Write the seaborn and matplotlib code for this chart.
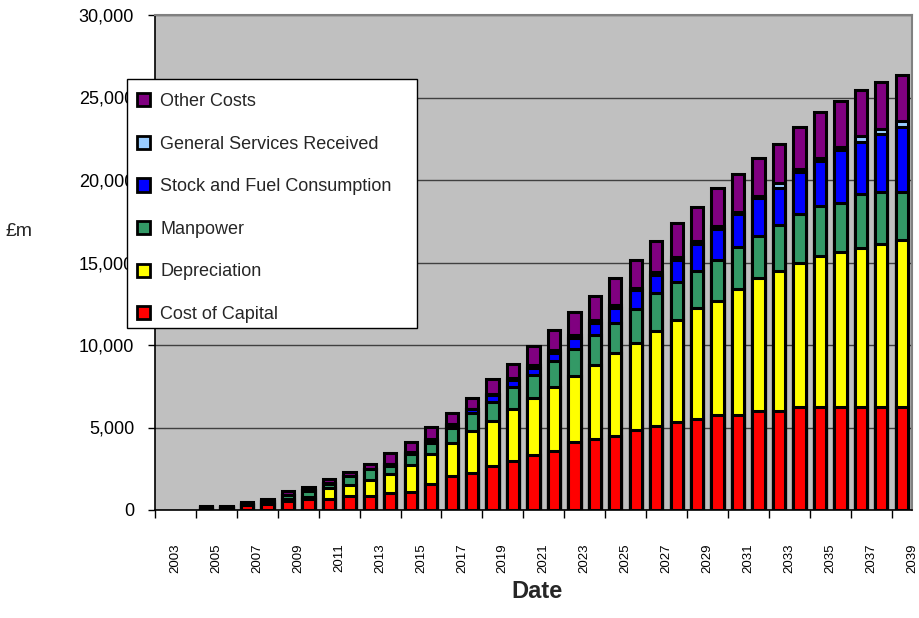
import numpy as np
import pandas as pd
import matplotlib
matplotlib.use("Agg")
import matplotlib.pyplot as plt
import seaborn as sns
from matplotlib.patches import Patch, Rectangle
from matplotlib.ticker import FixedLocator, FuncFormatter, NullFormatter

# ---------------- data ----------------
years = [2003, 2004, 2005, 2006, 2007, 2008, 2009, 2010, 2011, 2012, 2013,
         2014, 2015, 2016, 2017, 2018, 2019, 2020, 2021, 2022, 2023, 2024,
         2025, 2026, 2027, 2028, 2029, 2030, 2031, 2032, 2033, 2034, 2035,
         2036, 2037, 2038, 2039]

cost_of_capital = [0, 0, 60, 120, 300, 380, 560, 640, 640, 840, 840, 1040, 1100,
                   1560, 2040, 2240, 2680, 2940, 3360, 3600, 4100, 4280, 4480,
                   4850, 5070, 5330, 5530, 5780, 5780, 6000, 6000, 6240, 6240,
                   6240, 6240, 6240, 6240]
depreciation = [0, 0, 0, 0, 0, 0, 80, 150, 680, 700, 960, 1160, 1620, 1840,
                2020, 2520, 2720, 3180, 3420, 3880, 4040, 4520, 5020, 5290,
                5760, 6180, 6690, 6870, 7600, 8080, 8480, 8750, 9150, 9390,
                9620, 9900, 10100]
manpower = [0, 0, 100, 40, 80, 150, 250, 350, 250, 500, 660, 480, 680, 640,
            900, 1100, 1160, 1360, 1380, 1560, 1600, 1800, 1860, 2020, 2300,
            2300, 2260, 2530, 2530, 2500, 2790, 2970, 3030, 2990, 3270, 3150,
            2950]
stock_fuel = [0, 0, 0, 0, 0, 0, 30, 50, 50, 50, 50, 100, 80, 200, 200, 250,
              440, 400, 440, 460, 660, 740, 900, 1150, 1110, 1370, 1620, 1860,
              2000, 2300, 2260, 2530, 2730, 3190, 3190, 3470, 3930]
general_services = [0, 0, 0, 0, 0, 0, 0, 0, 0, 0, 0, 0, 20, 50, 40, 40, 40,
                    120, 200, 180, 200, 160, 180, 140, 180, 160, 180, 160, 140,
                    140, 300, 160, 200, 180, 330, 360, 360]
other_costs = [0, 0, 60, 60, 100, 150, 230, 210, 240, 210, 250, 680, 600, 730,
               700, 650, 880, 840, 1140, 1200, 1400, 1440, 1620, 1720, 1880,
               2060, 2080, 2310, 2320, 2320, 2360, 2560, 2770, 2780, 2810,
               2810, 2780]

series_names = ["Cost of Capital", "Depreciation", "Manpower",
                "Stock and Fuel Consumption", "General Services Received",
                "Other Costs"]
series_colors = ["#FF0000", "#FFFF00", "#339966", "#0000FF", "#99CCFF", "#800080"]

# ---------------- style ----------------
sns.set_theme(style="white")
plt.rcParams["font.family"] = ["Liberation Sans", "DejaVu Sans"]

fig = plt.figure(figsize=(9.2, 6.18), dpi=100)
ax = fig.add_axes([155 / 920, 1 - 510 / 618, 757 / 920, 495 / 618])
ax.set_facecolor("#C0C0C0")

values = [cost_of_capital, depreciation, manpower, stock_fuel,
          general_services, other_costs]
cum = np.cumsum(np.array(values, dtype=float), axis=0)
year_labels = [str(y) for y in years]

# stacked bars: draw cumulative totals from the top series down
for i in range(len(values) - 1, -1, -1):
    heights = np.where(cum[i] > 0, cum[i], np.nan)
    df = pd.DataFrame({"Year": year_labels, "Value": heights})
    sns.barplot(data=df, x="Year", y="Value", order=year_labels,
                color=series_colors[i], saturation=1, edgecolor="black",
                linewidth=2.2, width=0.6, errorbar=None, ax=ax)

ax.set_xlim(-0.5, len(years) - 0.5)
ax.set_ylim(0, 30000)
ax.set_xlabel("")
ax.set_ylabel("")

ax.yaxis.set_major_locator(FixedLocator(list(range(0, 30001, 5000))))
ax.yaxis.set_major_formatter(FuncFormatter(lambda v, p: f"{int(v):,}"))
ax.yaxis.grid(True, color="#404040", linewidth=1.0)
ax.xaxis.grid(False)
ax.set_axisbelow(True)

major_x = [k - 0.5 for k in range(0, len(years), 2)]
minor_x = [k + 0.5 for k in range(0, len(years), 2)]
ax.xaxis.set_major_locator(FixedLocator(major_x))
ax.xaxis.set_major_formatter(NullFormatter())
ax.xaxis.set_minor_locator(FixedLocator(minor_x))
ax.set_xticklabels(year_labels[::2], minor=True, rotation=90, fontsize=9.5)

ax.tick_params(axis="x", which="major", bottom=True, length=6, width=1,
               color="black", direction="out")
ax.tick_params(axis="x", which="minor", bottom=True, length=0, pad=24,
               labelsize=9.5, labelcolor="black")
ax.tick_params(axis="y", which="major", left=True, length=5, width=1,
               color="black", direction="out", pad=10, labelsize=13,
               labelcolor="black")

for s in ["top", "right"]:
    ax.spines[s].set_color("#808080")
    ax.spines[s].set_linewidth(1.5)
for s in ["left", "bottom"]:
    ax.spines[s].set_color("black")
    ax.spines[s].set_linewidth(1.2)

# ---------------- legend ----------------
box = Rectangle((127 / 920, 1 - 328 / 618), 290 / 920, 249 / 618,
                transform=fig.transFigure, facecolor="white",
                edgecolor="black", linewidth=1.0, zorder=4)
fig.add_artist(box)

handles = [Patch(facecolor=series_colors[i], edgecolor="black", linewidth=2.0,
                 label=series_names[i]) for i in range(len(series_names) - 1, -1, -1)]
leg = fig.legend(handles=handles, loc="upper left",
                 bbox_to_anchor=(127 / 920, 1 - 83 / 618), frameon=False,
                 fontsize=13, handlelength=0.75, handleheight=0.75,
                 handletextpad=0.55, labelspacing=1.42, borderpad=0.55,
                 borderaxespad=0)
leg.set_zorder(5)

# ---------------- axis titles ----------------
fig.text(6 / 920, 1 - 231 / 618, "£m", ha="left", va="center", fontsize=14)
fig.text(537 / 920, 1 - 592 / 618, "Date", ha="center", va="center",
         fontsize=17, fontweight="bold")

fig.savefig("out.png", dpi=100)
